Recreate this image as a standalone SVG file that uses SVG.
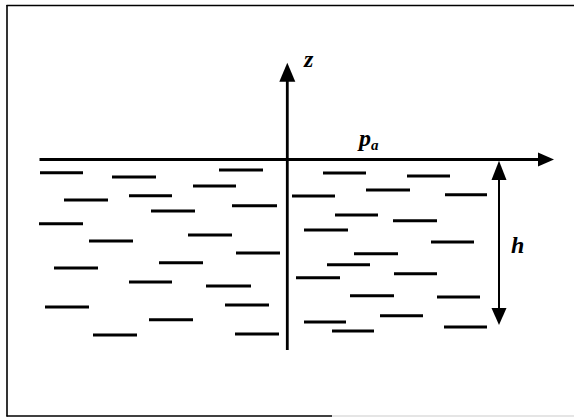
<svg xmlns="http://www.w3.org/2000/svg" width="574" height="417" viewBox="0 0 574 417">
<style>
.frame{stroke:#000;stroke-width:1.6;fill:none}
.axis{stroke:#000;stroke-width:2.8;fill:none}
.dim{stroke:#000;stroke-width:2;fill:none}
.head{fill:#000;stroke:none}
.wave line{stroke:#000;stroke-width:3;stroke-linecap:butt}
.lbl{font-family:"Liberation Serif","Times New Roman",serif;font-style:italic;font-weight:bold;fill:#000}
</style>
<rect width="574" height="417" fill="#fff"/>
<g id="frame">
<line class="frame" x1="6.5" y1="5.5" x2="574" y2="5.5"/>
<line class="frame" x1="7" y1="5" x2="7" y2="416.5"/>
<line class="frame" x1="6.5" y1="416" x2="332" y2="416"/>
<line x1="332" y1="416" x2="574" y2="416" stroke="#ccc" stroke-width="1.2"/>
</g>
<g id="water" class="wave">
<line x1="40" y1="172.7" x2="83" y2="172.7"/>
<line x1="112" y1="177" x2="156" y2="177"/>
<line x1="219" y1="170" x2="263" y2="170"/>
<line x1="193" y1="186" x2="236" y2="186"/>
<line x1="64" y1="200" x2="108" y2="200"/>
<line x1="129" y1="195.7" x2="172" y2="195.7"/>
<line x1="151" y1="211" x2="195" y2="211"/>
<line x1="232" y1="205.7" x2="277" y2="205.7"/>
<line x1="39" y1="223.7" x2="83" y2="223.7"/>
<line x1="89" y1="241" x2="133" y2="241"/>
<line x1="188" y1="235" x2="232" y2="235"/>
<line x1="236" y1="253" x2="280" y2="253"/>
<line x1="54" y1="268" x2="98" y2="268"/>
<line x1="159" y1="262.7" x2="203" y2="262.7"/>
<line x1="129" y1="282" x2="172" y2="282"/>
<line x1="206" y1="286" x2="251" y2="286"/>
<line x1="45" y1="307" x2="89" y2="307"/>
<line x1="225" y1="305" x2="269" y2="305"/>
<line x1="149" y1="319.7" x2="193" y2="319.7"/>
<line x1="93" y1="335" x2="137" y2="335"/>
<line x1="235" y1="334" x2="279" y2="334"/>
<line x1="323" y1="173" x2="366" y2="173"/>
<line x1="407" y1="176" x2="450" y2="176"/>
<line x1="292" y1="196" x2="335" y2="196"/>
<line x1="366" y1="190" x2="410" y2="190"/>
<line x1="445" y1="194.7" x2="487" y2="194.7"/>
<line x1="335" y1="215" x2="378" y2="215"/>
<line x1="393" y1="220.7" x2="437" y2="220.7"/>
<line x1="304" y1="230" x2="348" y2="230"/>
<line x1="431" y1="242" x2="474" y2="242"/>
<line x1="354" y1="253.7" x2="398" y2="253.7"/>
<line x1="327" y1="264.7" x2="370" y2="264.7"/>
<line x1="296" y1="277.7" x2="340" y2="277.7"/>
<line x1="394" y1="273.7" x2="437" y2="273.7"/>
<line x1="350" y1="295.7" x2="394" y2="295.7"/>
<line x1="437" y1="297" x2="480" y2="297"/>
<line x1="380" y1="315.7" x2="423" y2="315.7"/>
<line x1="304" y1="322" x2="346" y2="322"/>
<line x1="332" y1="331" x2="374" y2="331"/>
<line x1="444" y1="327" x2="487" y2="327"/>
</g>
<g id="connectors">
<g id="z-axis">
<line class="axis" x1="287.3" y1="350" x2="287.3" y2="78"/>
<polygon class="head" points="287.3,62.7 279.3,81.7 295.3,81.7"/>
</g>
<g id="surface">
<line class="axis" x1="39.5" y1="159.5" x2="540" y2="159.5"/>
<polygon class="head" points="554,159.5 538,152.5 538,166.5"/>
</g>
<g id="depth-h">
<line class="dim" x1="499" y1="176" x2="499" y2="312"/>
<polygon class="head" points="499,160.7 491.5,180 506.5,180"/>
<polygon class="head" points="499,325 491.5,308 506.5,308"/>
</g>
</g>
<g id="labels">
<text class="lbl" x="304" y="67" font-size="24">z</text>
<text class="lbl" x="359" y="146" font-size="24">p<tspan font-size="15" dy="3.5">a</tspan></text>
<text class="lbl" x="511" y="253.3" font-size="24">h</text>
</g>
</svg>
